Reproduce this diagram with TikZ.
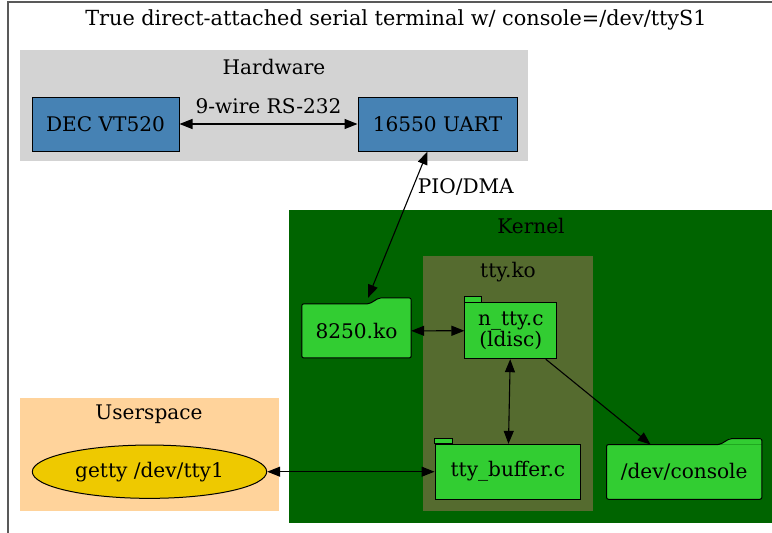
\documentclass[tikz,border=0pt]{standalone}
\usepackage{fontspec}
\setmainfont{DejaVu Serif}
\usetikzlibrary{arrows.meta,shapes.geometric}

\definecolor{hwgray}{HTML}{D3D3D3}
\definecolor{hwblue}{HTML}{4682B4}
\definecolor{kernelgreen}{HTML}{006400}
\definecolor{ttyolive}{HTML}{556B2F}
\definecolor{filegreen}{HTML}{32CD32}
\definecolor{userpeach}{HTML}{FFD39B}
\definecolor{gettygold}{HTML}{EEC900}

\newcommand{\gvfont}{\fontsize{20.1}{21.7}\selectfont}
\newcommand{\gvtitlefont}{\fontsize{20.8}{22}\selectfont}

\tikzset{
  gvborder/.style={draw=black!65, line width=1.2pt},
  gvlabel/.style={inner sep=0pt, font=\gvfont},
  hwbox/.style={rectangle, draw=black, fill=hwblue, line width=1pt, inner sep=0pt},
  filebox/.style={rectangle, fill=filegreen, inner sep=0pt, align=center},
  tabbox/.style={rectangle, draw=black, fill=filegreen, line width=1pt, inner sep=0pt, align=center},
  tabline/.style={draw=black, fill=filegreen, line width=1pt},
  folderline/.style={draw=black, line width=1pt, rounded corners=2pt},
  gvedge/.style={line width=1.1pt, {Triangle[length=13pt,width=10pt]}-{Triangle[length=13pt,width=10pt]}},
  gvdirected/.style={line width=1.1pt, -{Triangle[length=13pt,width=10pt]}}
}

% folder outline over a node: tab at the top right
\newcommand{\folderof}[1]{%
  \fill[filegreen] ([xshift=-42pt]#1.north east) -- ([xshift=-32pt,yshift=6pt]#1.north east)
    -- ([yshift=6pt]#1.north east) -- (#1.north east) -- cycle;
  \draw[folderline] (#1.north west) -- ([xshift=-42pt]#1.north east)
    -- ([xshift=-32pt,yshift=6pt]#1.north east) -- ([yshift=6pt]#1.north east)
    -- (#1.south east) -- (#1.south west) -- cycle;
}

\begin{document}
\begin{tikzpicture}[x=1pt, y=-1pt, font=\gvfont]
\useasboundingbox (0,0) rectangle (772,533);
\draw[gvborder] (8,533) |- (772,2);
\node[gvlabel, font=\gvtitlefont] (title) at (396,20) {True direct-attached serial terminal w/ console=/dev/ttyS1};

% clusters
\fill[hwgray] (20,50) rectangle (528,161);
\node[gvlabel] (hwlabel) at (274,67) {Hardware};
\fill[kernelgreen] (289,210) rectangle (772,522.7);
\node[gvlabel] (kernellabel) at (531,226) {Kernel};
\fill[ttyolive] (422.7,256) rectangle (593.3,510.7);
\node[gvlabel] (ttykolabel) at (508,272) {tty.ko};
\fill[userpeach] (20,398.3) rectangle (279,511);
\node[gvlabel] (userlabel) at (149,414) {Userspace};

% hardware
\node[hwbox, minimum width=147pt, minimum height=54pt] (vt520) at (105.5,124) {DEC VT520};
\node[hwbox, minimum width=159pt, minimum height=54pt] (uart) at (437.5,124) {16550 UART};

% kernel
\node[filebox, minimum width=109pt, minimum height=53.7pt] (ko8250) at (356.5,330.9) {8250.ko};
\folderof{ko8250}
\node[tabbox, minimum width=91.7pt, minimum height=56pt] (ntty) at (510.8,330.7) {n\_tty.c\\(ldisc)};
\filldraw[tabline] (ntty.north west) rectangle ++(17.5,-6);
\node[tabbox, minimum width=145.7pt, minimum height=54.7pt] (ttybuf) at (507.9,471.7) {tty\_buffer.c};
\filldraw[tabline] (ttybuf.north west) rectangle ++(18,-5.5);
\node[filebox, minimum width=155pt, minimum height=54.3pt] (console) at (684.2,471.9) {/dev/console};
\folderof{console}

% userspace
\node[ellipse, draw=black, fill=gettygold, line width=1pt, inner sep=0pt,
  minimum width=234.4pt, minimum height=53.3pt] (getty) at (149.5,471.7) {getty /dev/tty1};

% edges
\draw[gvedge] (vt520) -- (uart) node[midway, yshift=18pt] {9-wire RS-232};
\draw[gvedge] ([xshift=-10pt]uart.south) -- ([xshift=11.5pt,yshift=6pt]ko8250.north)
  node[pos=0.245, right=1pt] {PIO/DMA};
\draw[gvedge] (ko8250) -- (ntty);
\draw[gvedge] (ntty) -- (ttybuf);
\draw[gvdirected] (ntty) -- (console);
\draw[gvedge] (getty) -- (ttybuf);
\end{tikzpicture}
\end{document}
